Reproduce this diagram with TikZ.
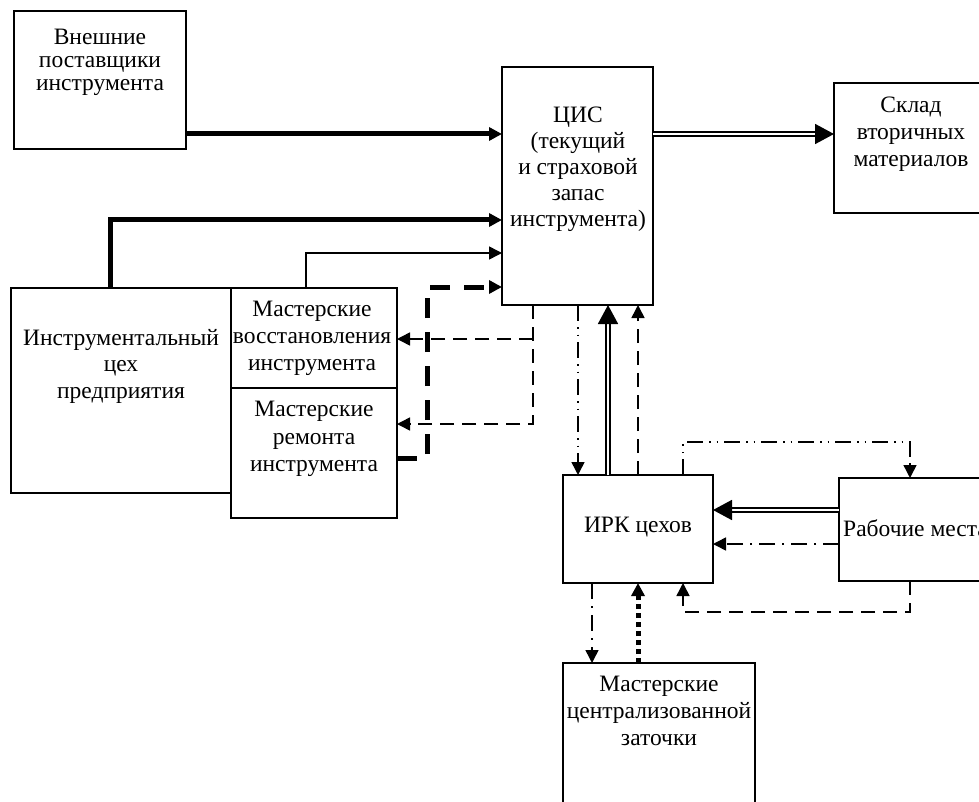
\documentclass[tikz,border=0pt]{standalone}
\usepackage{fontspec}
\setmainfont{Liberation Serif}
\usetikzlibrary{arrows.meta}

\begin{document}
\begin{tikzpicture}[x=1pt,y=-1pt,
  box/.style={draw,line width=1.5pt,inner sep=0pt,outer sep=0pt},
  lbl/.style={inner sep=0pt,align=center,anchor=north,font=\fontsize{23.5}{#1}\selectfont},
  lbl/.default=27,
  tip/.style={-{Triangle[length=13pt,width=13pt]}},
  bigtip/.style={-{Triangle[length=19pt,width=20pt]}},
  thickln/.style={line width=5pt},
  thinln/.style={line width=1.5pt},
  dbl/.style={line width=1.7pt,double,double distance=2pt},
  dashthick/.style={line width=5pt,dash pattern=on 20pt off 14pt},
  dashthin/.style={line width=1.5pt,dash pattern=on 14pt off 8pt},
  dashdotdot/.style={line width=1.5pt,dash pattern=on 16pt off 6pt on 1.5pt off 6pt on 1.5pt off 6pt},
  dashdot/.style={line width=1.5pt,dash pattern=on 16pt off 7pt on 2pt off 7pt},
  dotthick/.style={line width=5pt,dash pattern=on 5pt off 4pt}
]
\useasboundingbox (0,0) rectangle (979,802);

% blocks
\node[box,minimum width=172pt,minimum height=138pt] (vnesh) at (100,80) {};
\node[box,minimum width=151pt,minimum height=238pt] (cis) at (577.5,186) {};
\node[box,minimum width=154pt,minimum height=130pt] (sklad) at (911,148) {};
\node[box,minimum width=220pt,minimum height=205pt] (ceh) at (121,390.5) {};
\node[box,minimum width=166pt,minimum height=100pt] (vosst) at (314,338) {};
\node[box,minimum width=166pt,minimum height=130pt] (remont) at (314,453) {};
\node[box,minimum width=150pt,minimum height=108pt] (irk) at (638,529) {};
\node[box,minimum width=146pt,minimum height=103pt] (rab) at (912,529.5) {};
\node[box,minimum width=192pt,minimum height=160pt] (zat) at (659,743) {};

% block texts
\node[lbl=23] (vnesh-t) at (100,29) {Внешние\\поставщики\\инструмента};
\node[lbl=26] (cis-t) at (578,107) {ЦИС\\(текущий\\и страховой\\запас\\инструмента)};
\node[lbl=27] (sklad-t) at (911,97) {Склад\\вторичных\\материалов};
\node[lbl=26.5] (ceh-t) at (121,329) {Инструментальный\\цех\\предприятия};
\node[lbl=27] (vosst-t) at (312,301) {Мастерские\\восстановления\\инструмента};
\node[lbl=27.5] (remont-t) at (314,401) {Мастерские\\ремонта\\инструмента};
\node[lbl] (irk-t) at (638,517) {ИРК цехов};
\node[lbl,anchor=north west] (rab-t) at (843,519) {Рабочие места};
\node[lbl=27] (zat-t) at (659,676) {Мастерские\\централизованной\\заточки};

% bend points
\coordinate (p1) at (0,134);
\coordinate (b1) at (110,220);
\coordinate (b2) at (306,253);
\coordinate (b3) at (427,458);
\coordinate (b4) at (427,287);
\coordinate (b5) at (533,339);
\coordinate (b6) at (533,424);
\coordinate (x578) at (578,0);
\coordinate (x608) at (608,0);
\coordinate (x592) at (592,0);
\coordinate (b7) at (683,442);
\coordinate (b8) at (910,442);
\coordinate (y510) at (0,510);
\coordinate (y544) at (0,544);
\coordinate (b9) at (910,612);
\coordinate (b10) at (683,612);

% supplies into the central store
\draw[thickln,tip] (vnesh.east |- p1) -- (cis.west |- p1);
\draw[dbl,bigtip] (cis.east |- p1) -- (sklad.west |- p1);
\draw[thickln,tip] (ceh.north -| b1) -- (b1) -- (b1 -| cis.west);
\draw[thinln,tip] (vosst.north -| b2) -- (b2) -- (b2 -| cis.west);
\draw[dashthick,tip] (b3 -| remont.east) -- (b3) -- (b4) -- (b4 -| cis.west);

% central store to the workshops
\draw[dashthin,tip] (cis.south -| b5) -- (b6) -- (b6 -| remont.east);
\draw[dashthin,tip] (b5) -- (b5 -| vosst.east);

% central store and shop stores
\draw[dashdotdot,tip] (cis.south -| x578) -- (irk.north -| x578);
\draw[dbl,bigtip] (irk.north -| x608) -- (cis.south -| x608);
\draw[dashthin,tip] (irk.north) -- (irk.north |- cis.south);

% shop stores and work places
\draw[dashdotdot,tip] (irk.north -| b7) -- (b7) -- (b8) -- (rab.north -| b8);
\draw[dbl,bigtip] (rab.west |- y510) -- (irk.east |- y510);
\draw[dashdot,tip] (rab.west |- y544) -- (irk.east |- y544);
\draw[dashthin,tip] (rab.south -| b9) -- (b9) -- (b10) -- (irk.south -| b10);

% sharpening
\draw[dashdot,tip] (irk.south -| x592) -- (zat.north -| x592);
\draw[dotthick,tip] (zat.north -| irk.south) -- (irk.south);
\end{tikzpicture}
\end{document}
